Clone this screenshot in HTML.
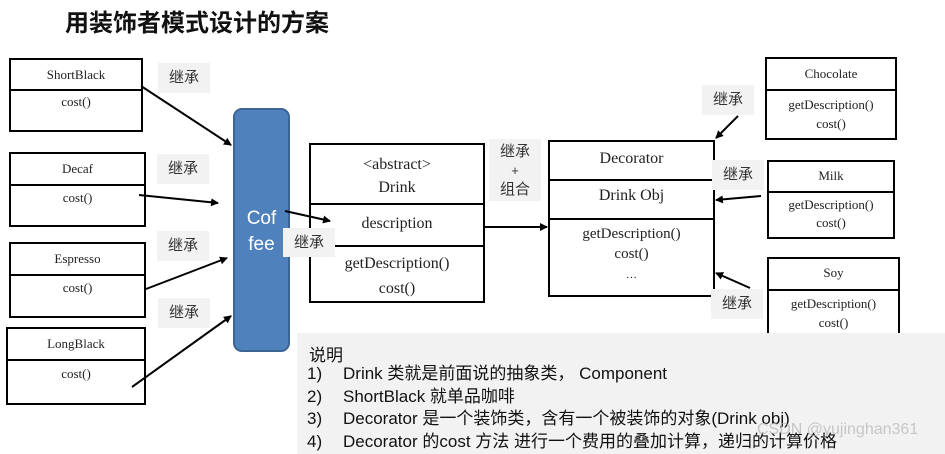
<!DOCTYPE html>
<html><head><meta charset="utf-8"><style>
html,body{margin:0;padding:0;background:#fff;width:945px;height:454px;overflow:hidden;position:relative;font-family:"Liberation Serif","Noto Serif CJK SC",serif;}
.a{position:absolute;box-sizing:border-box;}
.box{position:absolute;box-sizing:border-box;border:2px solid #000;background:#fff;}
.hd{position:absolute;left:0;right:0;border-bottom:2px solid #000;text-align:center;color:#222;}
.t{position:absolute;left:0;right:0;text-align:center;color:#222;}
.lab{position:absolute;background:#f2f2f2;color:#333;font-family:"Liberation Sans","Noto Sans CJK SC",sans-serif;font-size:15px;text-align:center;}
.s{font-size:13px;}
</style></head><body>
<div class="a" style="left:65px;top:3px;font-family:'Liberation Sans','Noto Sans CJK SC',sans-serif;font-weight:bold;font-size:24px;color:#111;">用装饰者模式设计的方案</div>

<div class="box s" style="left:9px;top:58px;width:134px;height:74px;"><div class="hd" style="top:0;height:29px;line-height:29px;">ShortBlack</div><div class="t" style="top:34px;">cost()</div></div>
<div class="box s" style="left:9px;top:152px;width:137px;height:75px;"><div class="hd" style="top:0;height:30px;line-height:30px;">Decaf</div><div class="t" style="top:36px;">cost()</div></div>
<div class="box s" style="left:9px;top:242px;width:137px;height:76px;"><div class="hd" style="top:0;height:30px;line-height:30px;">Espresso</div><div class="t" style="top:36px;">cost()</div></div>
<div class="box s" style="left:6px;top:327px;width:140px;height:78px;"><div class="hd" style="top:0;height:30px;line-height:30px;">LongBlack</div><div class="t" style="top:37px;">cost()</div></div>

<div class="lab" style="left:158px;top:63px;width:52px;height:30px;line-height:30px;">继承</div>
<div class="lab" style="left:157px;top:154px;width:52px;height:30px;line-height:30px;">继承</div>
<div class="lab" style="left:157px;top:231px;width:52px;height:30px;line-height:30px;">继承</div>
<div class="lab" style="left:158px;top:298px;width:52px;height:30px;line-height:30px;">继承</div>

<div class="a" style="left:233px;top:108px;width:57px;height:244px;background:#4f81bd;border:2px solid #3a6595;border-radius:9px;color:#fff;font-family:'Liberation Sans',sans-serif;font-size:19px;text-align:center;padding-top:96px;line-height:26px;">Cof<br>fee</div>

<div class="box" style="left:309px;top:143px;width:176px;height:160px;font-size:16px;">
<div class="hd" style="top:0;height:60px;padding-top:8px;line-height:23px;box-sizing:border-box;">&lt;abstract&gt;<br>Drink</div>
<div class="hd" style="top:60px;height:40px;line-height:38px;">description</div>
<div class="t" style="top:106px;line-height:25px;">getDescription()<br>cost()</div>
</div>
<div class="lab" style="left:283px;top:228px;width:52px;height:29px;line-height:29px;">继承</div>
<div class="lab" style="left:489px;top:139px;width:52px;height:62px;line-height:19px;padding-top:3px;box-sizing:border-box;">继承<br><span style="font-size:13px;">+</span><br>组合</div>

<div class="box" style="left:548px;top:140px;width:167px;height:157px;font-size:16px;">
<div class="hd" style="top:0;height:37px;line-height:33px;">Decorator</div>
<div class="hd" style="top:37px;height:39px;line-height:34px;">Drink Obj</div>
<div class="t" style="top:82px;line-height:20px;font-size:15px;">getDescription()<br>cost()<br><span style="font-size:11px;">…</span></div>
</div>

<div class="box s" style="left:765px;top:57px;width:132px;height:83px;"><div class="hd" style="top:0;height:30px;line-height:30px;">Chocolate</div><div class="t" style="top:36px;line-height:19px;">getDescription()<br>cost()</div></div>
<div class="box s" style="left:767px;top:160px;width:128px;height:79px;"><div class="hd" style="top:0;height:29px;line-height:27px;">Milk</div><div class="t" style="top:34px;line-height:18px;">getDescription()<br>cost()</div></div>
<div class="box s" style="left:767px;top:257px;width:133px;height:90px;"><div class="hd" style="top:0;height:30px;line-height:28px;">Soy</div><div class="t" style="top:35px;line-height:19px;">getDescription()<br>cost()</div></div>

<div class="lab" style="left:702px;top:85px;width:52px;height:30px;line-height:30px;">继承</div>
<div class="lab" style="left:712px;top:160px;width:52px;height:30px;line-height:30px;">继承</div>
<div class="lab" style="left:711px;top:289px;width:52px;height:30px;line-height:30px;">继承</div>

<svg class="a" style="left:0;top:0;" width="945" height="454">
<defs><marker id="m" markerWidth="8" markerHeight="8" refX="7" refY="4" orient="auto" markerUnits="userSpaceOnUse"><path d="M0,0 L8,4 L0,8 z" fill="#000"/></marker></defs>
<g stroke="#000" stroke-width="2" marker-end="url(#m)">
<line x1="141" y1="86" x2="231" y2="145"/>
<line x1="139" y1="195" x2="218" y2="203"/>
<line x1="146" y1="289" x2="227" y2="258"/>
<line x1="132" y1="387" x2="231" y2="316"/>
<line x1="285" y1="211" x2="330" y2="221"/>
<line x1="484" y1="227" x2="547" y2="227"/>
<line x1="738" y1="116" x2="716" y2="138"/>
<line x1="761" y1="196" x2="716" y2="200"/>
<line x1="750" y1="288" x2="716" y2="273"/>
</g></svg>

<div class="a" style="left:297px;top:333px;width:648px;height:121px;background:#f2f2f2;font-family:'Liberation Sans','Noto Sans CJK SC',sans-serif;font-size:17px;color:#111;">
<div class="a" style="left:12px;top:8px;">说明</div>
<div class="a" style="left:10px;top:30px;line-height:22.5px;">1)<br>2)<br>3)<br>4)</div>
<div class="a" style="left:46px;top:30px;line-height:22.5px;white-space:nowrap;">Drink 类就是前面说的抽象类， Component<br>ShortBlack 就单品咖啡<br>Decorator 是一个装饰类，含有一个被装饰的对象(Drink obj)<br>Decorator 的cost 方法 进行一个费用的叠加计算，递归的计算价格</div>
<div class="a" style="left:460px;top:88px;font-size:16px;color:rgba(180,180,180,0.7);">CSDN @yujinghan361</div>
</div>
</body></html>
